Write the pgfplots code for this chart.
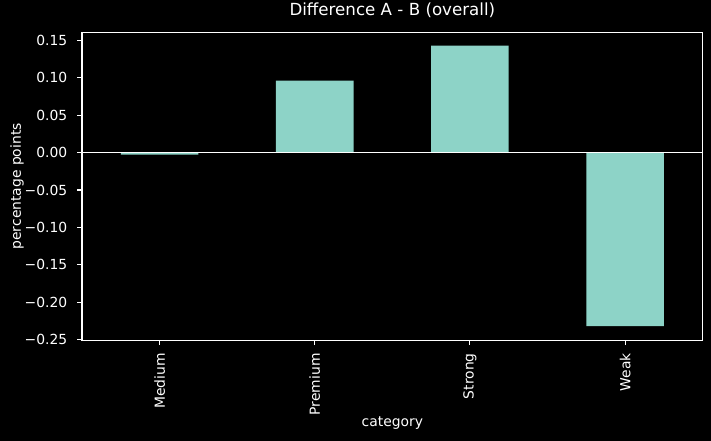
\documentclass[border=0pt]{standalone}
\usepackage{pgfplots}
\pgfplotsset{compat=1.18}
\usepackage{fontspec}
\setmainfont{DejaVu Sans}
\definecolor{barc}{HTML}{8DD3C7}
\begin{document}
\begin{tikzpicture}[font=\fontsize{13.89}{16.6}\selectfont]
\fill[black] (0,0) rectangle (711pt,441pt);
\path[use as bounding box] (0,0) rectangle (711pt,441pt);
\begin{axis}[
  at={(82pt,100.7pt)}, anchor=south west,
  scale only axis, width=620.7pt, height=308pt,
  xmin=-0.5, xmax=3.5, ymin=-0.2507, ymax=0.1607,
  axis line style={white, line width=1.1pt},
  tick style={white, line width=1.1pt},
  tick align=outside, major tick length=4.86pt,
  xtick={0,1,2,3}, xticklabels={Medium,Premium,Strong,Weak},
  xtick pos=bottom, ytick pos=left,
  ytick={-0.25,-0.2,-0.15,-0.1,-0.05,0,0.05,0.1,0.15},
  yticklabels={−0.25,−0.20,−0.15,−0.10,−0.05,0.00,0.05,0.10,0.15},
  x tick label style={rotate=90, anchor=east, inner sep=0pt, xshift=-8pt, text=white},
  y tick label style={anchor=east, inner sep=0pt, xshift=-9.7pt, text=white},
  title={Difference A - B (overall)},
  title style={at={(axis description cs:0.5,1)}, anchor=south, inner sep=0pt, yshift=8.33pt, text=white, font=\fontsize{16.67}{20}\selectfont},
  xlabel={category},
  xlabel style={at={(axis description cs:0.5,0)}, anchor=center, yshift=-83pt, text=white},
  ylabel={percentage points},
  ylabel style={at={(axis description cs:0,0.5)}, anchor=center, yshift=65pt, text=white},
]
\addplot[ybar, bar width=0.5, fill=barc, draw=none] coordinates {
  (0,-0.0027) (1,0.096) (2,0.143) (3,-0.2318)
};
\addplot[white, line width=1.1pt] coordinates {(-0.5,0) (3.5,0)};
\end{axis}
\end{tikzpicture}
\end{document}
